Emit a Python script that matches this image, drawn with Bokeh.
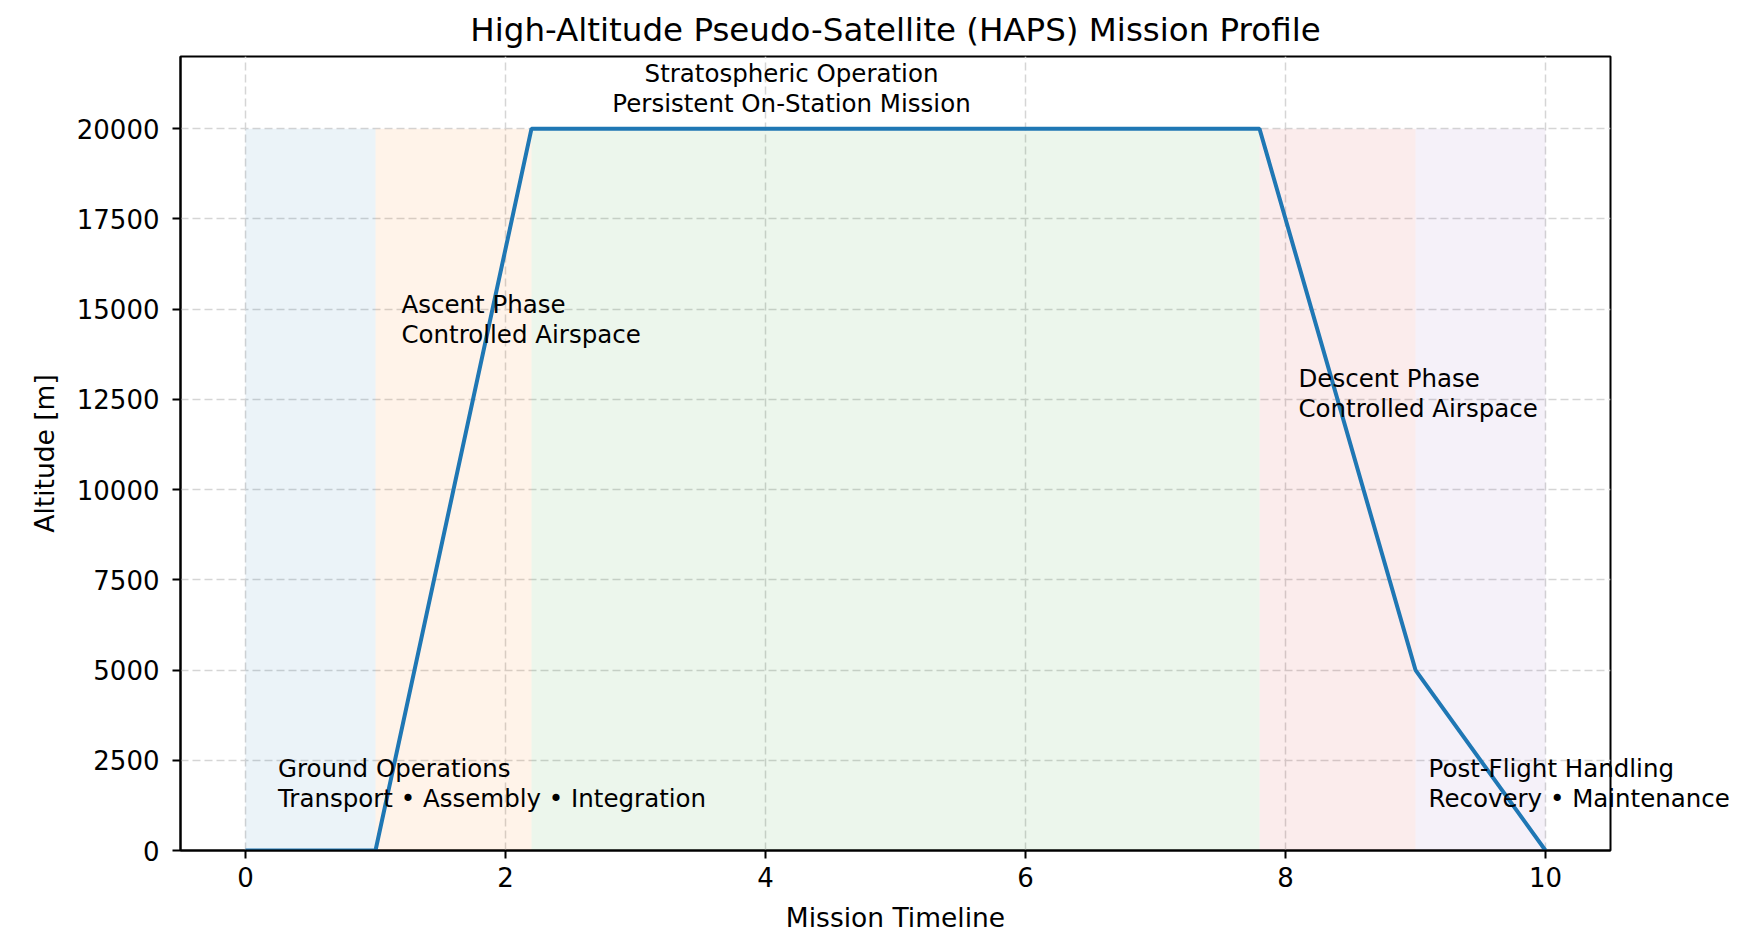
from bokeh.plotting import figure
from bokeh.models import ColumnDataSource, Label, FixedTicker, NumeralTickFormatter, Range1d
from bokeh.embed import file_html
from bokeh.resources import INLINE

# ---- data ----
timeline = [0, 1, 2.2, 7.8, 9, 10]
altitude = [0, 0, 20000, 20000, 5000, 0]

phase_start = [0, 1, 2.2, 7.8, 9]
phase_end = [1, 2.2, 7.8, 9, 10]
phase_top = [20000, 20000, 20000, 20000, 20000]
phase_colors = ["#1f77b4", "#ff7f0e", "#2ca02c", "#d62728", "#9467bd"]

ann_text = [
    "Ground Operations\nTransport \u2022 Assembly \u2022 Integration",
    "Ascent Phase\nControlled Airspace",
    "Stratospheric Operation\nPersistent On-Station Mission",
    "Descent Phase\nControlled Airspace",
    "Post-Flight Handling\nRecovery \u2022 Maintenance",
]
ann_x = [0.25, 1.2, 4.2, 8.1, 9.1]
ann_y = [1050, 13900, 20300, 11850, 1050]
ann_align = ["left", "left", "center", "left", "left"]
ann_outside = [False, False, False, False, True]   # last one overflows the frame

x_ticks = [0, 2, 4, 6, 8, 10]
y_ticks = [0, 2500, 5000, 7500, 10000, 12500, 15000, 17500, 20000]

FONT = "DejaVu Sans"

p = figure(
    frame_width=1430, frame_height=794,
    min_border_left=180, min_border_right=120, min_border_top=56, min_border_bottom=85,
    x_range=Range1d(-0.5, 10.5), y_range=Range1d(0, 22000),
    output_backend="svg", toolbar_location=None,
    title="High-Altitude Pseudo-Satellite (HAPS) Mission Profile",
)
p.background_fill_color = "white"
p.border_fill_color = "white"
p.outline_line_color = "black"
p.outline_line_width = 2

p.title.text_font = FONT
p.title.text_font_size = "32.5px"
p.title.text_font_style = "normal"
p.title.align = "center"
p.title.text_color = "black"
p.title.standoff = 16

# phase bands
band_src = ColumnDataSource(dict(left=phase_start, right=phase_end,
                                 bottom=[0] * len(phase_start), top=phase_top,
                                 color=phase_colors))
p.quad(left="left", right="right", bottom="bottom", top="top", source=band_src,
       fill_color="color", fill_alpha=0.09, line_color=None)

# profile line
p.line(timeline, altitude, line_color="#1f77b4", line_width=4)

# annotations
for t, x, y, a, out in zip(ann_text, ann_x, ann_y, ann_align, ann_outside):
    lab = Label(x=x, y=y, text=t, text_font=FONT, text_font_size="24.5px",
                text_align=a, text_baseline="bottom", text_color="black",
                text_line_height=1.03)
    p.add_layout(lab, "right" if out else "center")

# axes
for ax in (p.xaxis[0], p.yaxis[0]):
    ax.axis_line_width = 2
    ax.axis_line_color = "black"
    ax.major_tick_line_color = "black"
    ax.major_tick_line_width = 2
    ax.major_tick_out = 8
    ax.major_tick_in = 0
    ax.minor_tick_line_color = None
    ax.major_label_text_font = FONT
    ax.major_label_text_font_size = "26px"
    ax.major_label_text_color = "black"
    ax.axis_label_text_font = FONT
    ax.axis_label_text_font_size = "26.5px"
    ax.axis_label_text_font_style = "normal"
    ax.axis_label_text_color = "black"

p.xaxis.ticker = FixedTicker(ticks=x_ticks)
p.yaxis.ticker = FixedTicker(ticks=y_ticks)
p.xaxis.formatter = NumeralTickFormatter(format="0")
p.yaxis.formatter = NumeralTickFormatter(format="0")
p.xaxis.axis_label = "Mission Timeline"
p.yaxis.axis_label = "Altitude [m]"
p.xaxis.major_label_standoff = 8
p.yaxis.major_label_standoff = 13
p.xaxis.axis_label_standoff = 12
p.yaxis.axis_label_standoff = 14

p.xgrid.ticker = FixedTicker(ticks=x_ticks)
p.ygrid.ticker = FixedTicker(ticks=y_ticks)
for g in (p.xgrid[0], p.ygrid[0]):
    g.grid_line_color = "#d5d5d5"
    g.grid_line_width = 1.5
    g.grid_line_dash = "8 4"

open("out.html", "w").write(file_html(p, INLINE))
